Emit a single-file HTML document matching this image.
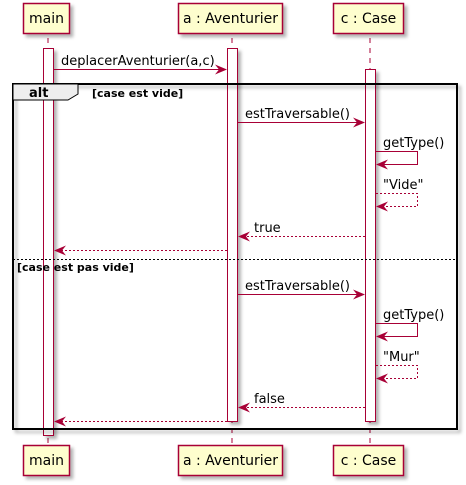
<!DOCTYPE html>
<html><head><meta charset="utf-8"><style>html,body{margin:0;padding:0;background:#fff}svg{display:block}</style></head><body>
<svg width="466" height="485" viewBox="0 0 466 485" xmlns="http://www.w3.org/2000/svg" font-family="DejaVu Sans, Liberation Sans, sans-serif">
<defs>
<filter id="sh" x="-20%" y="-20%" width="150%" height="150%"><feDropShadow dx="3" dy="3" stdDeviation="1.5" flood-color="#000" flood-opacity="0.3"/></filter>
</defs>
<g stroke="#A80036" stroke-width="1" stroke-dasharray="5,5">
<line x1="48" y1="38" x2="48" y2="445"/>
<line x1="232" y1="38" x2="232" y2="445"/>
<line x1="370" y1="38" x2="370" y2="445"/>
</g>
<g fill="#fff" stroke="#A80036" stroke-width="1" filter="url(#sh)">
<rect x="43.5" y="48.5" width="10" height="387"/>
<rect x="227.5" y="48.5" width="10" height="373"/>
<rect x="365.5" y="69.5" width="10" height="352"/>
</g>
<rect x="13" y="84" width="444" height="345" fill="none" stroke="#000" stroke-width="2" filter="url(#sh)"/>
<path d="M13 84 H78 V94 L68 100 H13 Z" fill="#EEEEEE" stroke="#000" stroke-width="1"/>
<text x="29" y="97" font-size="13" font-weight="bold">alt</text>
<text x="92" y="97" font-size="11" font-weight="bold">[case est vide]</text>
<line x1="13" y1="259.5" x2="457" y2="259.5" stroke="#000" stroke-width="1" stroke-dasharray="2,2"/>
<text x="17" y="271" font-size="11" font-weight="bold">[case est pas vide]</text>
<g stroke="#A80036" stroke-width="1" fill="none">
<line x1="54" y1="69.5" x2="225" y2="69.5"/>
<line x1="238" y1="122.5" x2="363" y2="122.5"/>
<polyline points="376,151.5 417.5,151.5 417.5,164.5 378,164.5"/>
<polyline points="376,193.5 417.5,193.5 417.5,206.5 378,206.5" stroke-dasharray="2,2"/>
<line x1="365" y1="236.5" x2="240" y2="236.5" stroke-dasharray="2,2"/>
<line x1="227" y1="250.5" x2="56" y2="250.5" stroke-dasharray="2,2"/>
<line x1="238" y1="294.5" x2="363" y2="294.5"/>
<polyline points="376,323.5 417.5,323.5 417.5,336.5 378,336.5"/>
<polyline points="376,365.5 417.5,365.5 417.5,378.5 378,378.5" stroke-dasharray="2,2"/>
<line x1="365" y1="407.5" x2="240" y2="407.5" stroke-dasharray="2,2"/>
<line x1="227" y1="421.5" x2="56" y2="421.5" stroke-dasharray="2,2"/>
</g>
<g fill="#A80036">
<path d="M227 69.5 L215 64.5 L219 69.5 L215 74.5Z"/>
<path d="M365 122.5 L353 117.5 L357 122.5 L353 127.5Z"/>
<path d="M376 164.5 L388 159.5 L384 164.5 L388 169.5Z"/>
<path d="M376 206.5 L388 201.5 L384 206.5 L388 211.5Z"/>
<path d="M238 236.5 L250 231.5 L246 236.5 L250 241.5Z"/>
<path d="M54 250.5 L66 245.5 L62 250.5 L66 255.5Z"/>
<path d="M365 294.5 L353 289.5 L357 294.5 L353 299.5Z"/>
<path d="M376 336.5 L388 331.5 L384 336.5 L388 341.5Z"/>
<path d="M376 378.5 L388 373.5 L384 378.5 L388 383.5Z"/>
<path d="M238 407.5 L250 402.5 L246 407.5 L250 412.5Z"/>
<path d="M54 421.5 L66 416.5 L62 421.5 L66 426.5Z"/>
</g>
<g font-size="13" fill="#000">
<text x="61" y="65">deplacerAventurier(a,c)</text>
<text x="245" y="118">estTraversable()</text>
<text x="383" y="147">getType()</text>
<text x="383" y="189">"Vide"</text>
<text x="254" y="232">true</text>
<text x="245" y="290">estTraversable()</text>
<text x="383" y="319">getType()</text>
<text x="383" y="361">"Mur"</text>
<text x="254" y="403">false</text>
</g>
<g fill="#FEFECE" stroke="#A80036" stroke-width="1.5" filter="url(#sh)">
<rect x="23.5" y="3.5" width="46" height="30"/>
<rect x="178.5" y="3.5" width="104" height="30"/>
<rect x="333.5" y="3.5" width="70" height="30"/>
<rect x="23.5" y="445.5" width="46" height="30"/>
<rect x="178.5" y="445.5" width="104" height="30"/>
<rect x="333.5" y="445.5" width="70" height="30"/>
</g>
<g font-size="14" fill="#000" text-anchor="middle">
<text x="46.5" y="23">main</text>
<text x="230.5" y="23">a : Aventurier</text>
<text x="368.5" y="23">c : Case</text>
<text x="46.5" y="465">main</text>
<text x="230.5" y="465">a : Aventurier</text>
<text x="368.5" y="465">c : Case</text>
</g>
</svg>
</body></html>
